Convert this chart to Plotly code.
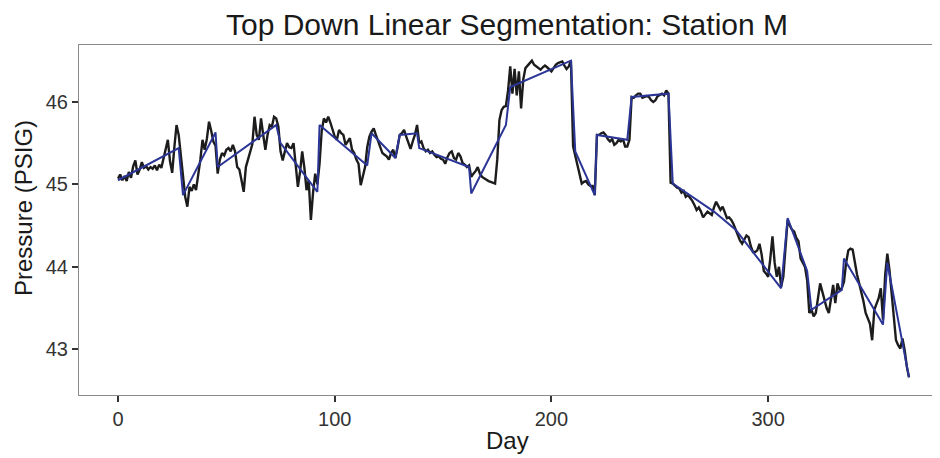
import plotly.graph_objects as go

# Daily raw pressure readings (PSIG), day 0..365
pressure = [
    45.07, 45.12, 45.05, 45.10, 45.04, 45.15, 45.08, 45.22, 45.29, 45.12,
    45.18, 45.27, 45.20, 45.22, 45.18, 45.21, 45.19, 45.23, 45.17, 45.24,
    45.20, 45.32, 45.45, 45.54, 45.28, 45.14, 45.45, 45.72, 45.60, 45.33,
    45.05, 44.85, 44.73, 44.97, 44.92, 45.00, 44.93, 45.10, 45.30, 45.54,
    45.42, 45.55, 45.76, 45.65, 45.52, 45.47, 45.13, 45.30, 45.38, 45.35,
    45.42, 45.44, 45.40, 45.48, 45.40, 45.21, 45.18, 45.05, 44.91, 45.21,
    45.30, 45.40, 45.49, 45.82, 45.60, 45.54, 45.80, 45.60, 45.42, 45.60,
    45.72, 45.70, 45.82, 45.80, 45.70, 45.40, 45.29, 45.40, 45.50, 45.45,
    45.44, 45.50, 45.25, 44.97, 45.15, 45.40, 45.20, 44.93, 45.05, 44.57,
    44.90, 45.13, 45.00, 45.25, 45.65, 45.80, 45.75, 45.82, 45.75, 45.66,
    45.58, 45.54, 45.66, 45.62, 45.60, 45.48, 45.52, 45.56, 45.42, 45.38,
    45.30, 45.25, 44.99, 45.10, 45.21, 45.45, 45.58, 45.64, 45.68, 45.60,
    45.52, 45.45, 45.38, 45.36, 45.34, 45.30, 45.38, 45.42, 45.32, 45.45,
    45.60, 45.62, 45.66, 45.58, 45.50, 45.43, 45.52, 45.60, 45.72, 45.50,
    45.52, 45.44, 45.40, 45.42, 45.38, 45.40, 45.36, 45.33, 45.34, 45.31,
    45.30, 45.25, 45.33, 45.38, 45.40, 45.32, 45.30, 45.38, 45.34, 45.26,
    45.24, 45.21, 45.23, 45.09, 45.13, 45.16, 45.21, 45.13, 45.09, 45.07,
    45.05, 45.04, 45.03, 45.02, 45.01, 45.30, 45.78, 45.90, 45.94, 45.95,
    46.14, 46.43, 46.10, 46.40, 46.08, 46.37, 45.92, 46.27, 46.41, 46.44,
    46.47, 46.50, 46.45, 46.43, 46.41, 46.39, 46.42, 46.44, 46.42, 46.40,
    46.37, 46.41, 46.45, 46.47, 46.48, 46.49, 46.44, 46.40, 46.43, 46.50,
    45.46, 45.35, 45.21, 45.10, 45.01, 45.03, 45.04, 45.00, 44.98, 44.98,
    44.87, 45.60, 45.60, 45.62, 45.63, 45.60, 45.55, 45.52, 45.55, 45.48,
    45.50, 45.54, 45.52, 45.55, 45.46, 45.46, 45.54, 46.06, 46.05, 46.08,
    46.10, 46.10, 46.05, 46.06, 46.07, 46.06, 46.02, 46.00, 46.02, 46.07,
    46.09, 46.10, 46.08, 46.14, 46.10, 45.02, 45.01, 44.98, 44.96, 44.95,
    44.90, 44.92, 44.85, 44.87, 44.84, 44.80, 44.75, 44.69, 44.72, 44.67,
    44.60, 44.64, 44.67, 44.65, 44.63, 44.72, 44.79, 44.74, 44.69, 44.73,
    44.65, 44.59, 44.60, 44.57, 44.52, 44.45, 44.40, 44.32, 44.28, 44.33,
    44.38, 44.36, 44.25, 44.18, 44.18, 44.20, 44.28, 44.15, 43.95, 43.92,
    43.88, 44.10, 44.37, 44.05, 43.88, 44.00, 43.76, 43.88, 44.20, 44.57,
    44.50, 44.45, 44.43, 44.35, 44.31, 44.10, 44.05, 44.00, 43.84, 43.44,
    43.48, 43.40, 43.44, 43.60, 43.80, 43.70, 43.60, 43.50, 43.44, 43.60,
    43.78, 43.56, 43.80, 43.72, 43.74, 43.82, 44.05, 44.20, 44.22, 44.21,
    44.05, 43.91, 43.80, 43.70, 43.58, 43.44, 43.38, 43.31, 43.11, 43.48,
    43.55, 43.62, 43.74, 43.36, 43.90, 44.16, 43.96, 43.70, 43.45, 43.11,
    43.05, 43.01, 43.13, 42.99, 42.79, 42.66,
]
days = list(range(len(pressure)))

# Top-down linear segmentation breakpoints
seg_days = [0, 28, 30, 45, 46, 73, 75, 92, 93, 115, 117, 128, 130, 138, 139,
            162, 163, 179, 181, 209, 211, 220, 221, 235, 237, 254, 256, 275,
            285, 306, 309, 318, 320, 334, 335, 353, 355, 365]
seg_vals = [45.05, 45.44, 44.87, 45.63, 45.21, 45.72, 45.50, 44.91, 45.72, 45.23,
            45.62, 45.32, 45.60, 45.62, 45.44, 45.21, 44.89, 45.72, 46.18, 46.50,
            45.40, 44.87, 45.60, 45.54, 46.06, 46.10, 45.01, 44.67, 44.45, 43.74,
            44.59, 43.95, 43.48, 43.72, 44.10, 43.30, 44.05, 42.66]

x_ticks = [0, 100, 200, 300]
y_ticks = [43, 44, 45, 46]

# the page body has an 8px default margin, so the figure is sized to fit the window
OFF = 8
W, H = 940 - OFF, 458 - OFF
L, R, T, B = 79 - OFF, 5, 45 - OFF, 458 - 395
PW, PH = W - L - R, H - T - B

fig = go.Figure()
fig.add_trace(go.Scatter(x=days, y=pressure, mode="lines",
                         line=dict(color="#1c1c1c", width=2.4), showlegend=False))
fig.add_trace(go.Scatter(x=seg_days, y=seg_vals, mode="lines",
                         line=dict(color="#2b3596", width=2.0), showlegend=False))

font_family = "Liberation Sans, Arial, sans-serif"
fig.update_layout(
    width=W, height=H,
    margin=dict(l=L, r=R, t=T, b=B, autoexpand=False),
    paper_bgcolor="white", plot_bgcolor="white",
    font=dict(family=font_family, color="#222222"),
    title=dict(text="Top Down Linear Segmentation: Station M",
               x=0.5, xref="paper", y=1 - (24 - OFF) / H, yanchor="middle",
               font=dict(size=30, color="#1a1a1a")),
    annotations=[
        dict(text="Day", xref="paper", yref="paper",
             x=0.5, y=-(440 - 395) / PH, xanchor="center", yanchor="middle",
             showarrow=False, font=dict(size=24, color="#1a1a1a")),
        dict(text="Pressure (PSIG)", xref="paper", yref="paper", textangle=-90,
             x=-(79 - 23) / PW, y=1 - (208 - 45) / PH,
             xanchor="center", yanchor="middle",
             showarrow=False, font=dict(size=24, color="#1a1a1a")),
    ],
)
fig.update_xaxes(
    range=[-18, 377], tickvals=x_ticks, ticktext=[str(v) for v in x_ticks],
    ticks="outside", ticklen=6, tickwidth=2, tickcolor="#333333",
    tickfont=dict(size=20, color="#333333"), automargin=False,
    showgrid=False, zeroline=False,
    showline=True, linecolor="#8a8a8a", linewidth=1.2, mirror=True,
)
fig.update_yaxes(
    range=[42.446, 46.69], tickvals=y_ticks, ticktext=[str(v) for v in y_ticks],
    ticks="outside", ticklen=6, tickwidth=2, tickcolor="#333333",
    tickfont=dict(size=20, color="#333333"), automargin=False,
    showgrid=False, zeroline=False,
    showline=True, linecolor="#8a8a8a", linewidth=1.2, mirror=True,
)

fig.write_html("out.html")
